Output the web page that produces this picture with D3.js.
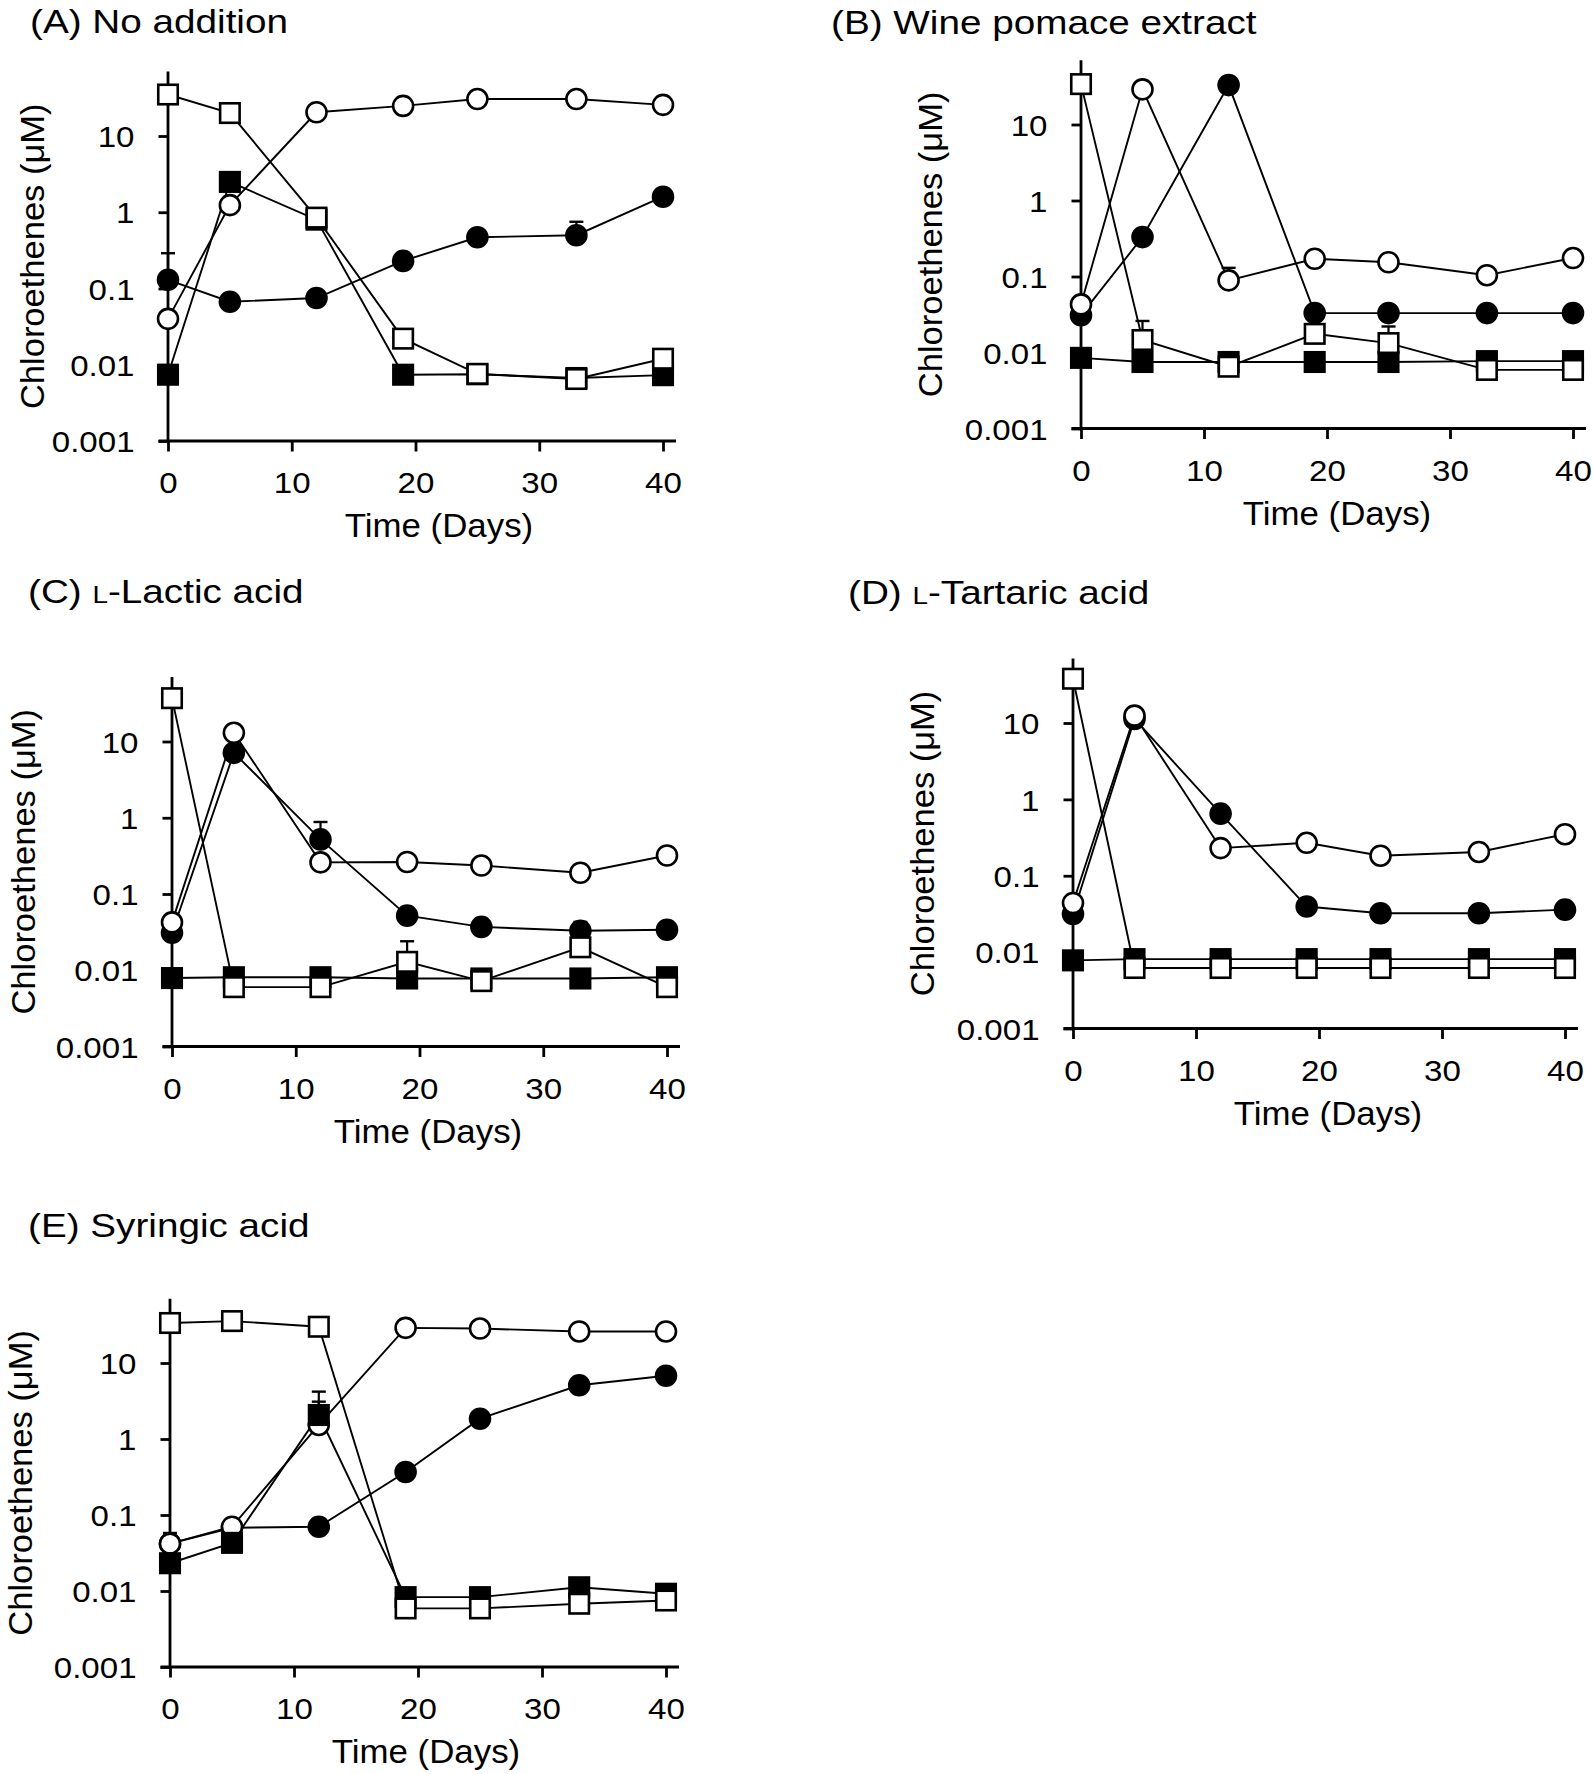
<!DOCTYPE html>
<html><head><meta charset="utf-8">
<script src="https://cdn.jsdelivr.net/npm/d3@7"></script>
<style>
body{margin:0;background:#fff}
text{font-family:"Liberation Sans",Arial,sans-serif;fill:#000}
</style>
</head><body>
<svg id="chart" width="1594" height="1774" xmlns="http://www.w3.org/2000/svg"></svg>
<script>
// ---------- data ----------
const days = [0, 5, 12, 19, 25, 33, 40];
const xTicks = [0, 10, 20, 30, 40];
const yTicks = [0.001, 0.01, 0.1, 1, 10];
const yTickLabels = ["0.001", "0.01", "0.1", "1", "10"];
const yLabel = "Chloroethenes (μM)";
const xLabel = "Time (Days)";
// titles: [prefix, small-capital part, rest]
const titleA = ["(A) No addition", "", ""];
const titleB = ["(B) Wine pomace extract", "", ""];
const titleC = ["(C) ", "L", "-Lactic acid"];
const titleD = ["(D) ", "L", "-Tartaric acid"];
const titleE = ["(E) Syringic acid", "", ""];

// open squares (PCE), filled squares (TCE), open circles (cis-DCE), filled circles (VC)
const pceA = [35, 20, 0.85, 0.022, 0.0076, 0.0065, 0.012];
const tceA = [0.0074, 2.5, 0.8, 0.0074, 0.0075, 0.0067, 0.0073];
const dceA = [0.040, 1.24, 20.5, 24.8, 30.5, 30.5, 25.6];
const vcA  = [0.13, 0.067, 0.075, 0.23, 0.47, 0.50, 1.6];
const errA = {vc: [[0, 0.29], [33, 0.75]]};

const pceB = [34, 0.0146, 0.0065, 0.0176, 0.0133, 0.0059, 0.0059];
const tceB = [0.0085, 0.0075, 0.0075, 0.0075, 0.0075, 0.0077, 0.0077];
const dceB = [0.043, 29, 0.089, 0.171, 0.154, 0.104, 0.175];
const vcB  = [0.031, 0.33, 33, 0.033, 0.033, 0.033, 0.033];
const errB = {pce: [[5, 0.026], [25, 0.022]], dce: [[12, 0.13]]};

const pceC = [37, 0.006, 0.006, 0.0129, 0.0072, 0.020, 0.006];
const tceC = [0.0079, 0.0081, 0.0081, 0.0078, 0.0078, 0.0078, 0.0081];
const dceC = [0.0425, 13, 0.26, 0.263, 0.236, 0.19, 0.32];
const vcC  = [0.031, 7.1, 0.52, 0.052, 0.037, 0.033, 0.034];
const errC = {pce: [[19, 0.024], [33, 0.032]], vc: [[12, 0.88], [33, 0.043]]};

const pceD = [38, 0.0062, 0.0062, 0.0062, 0.0062, 0.0062, 0.0062];
const tceD = [0.0078, 0.0081, 0.0081, 0.0081, 0.0081, 0.0081, 0.0081];
const dceD = [0.044, 12.5, 0.23, 0.27, 0.183, 0.205, 0.35];
const vcD  = [0.0316, 11.3, 0.65, 0.0395, 0.0323, 0.0323, 0.036];
const errD = {dce: [[25, 0.2]]};

const pceE = [33.6, 35.6, 30, 0.0059, 0.0059, 0.0068, 0.0075];
const tceE = [0.0232, 0.043, 2.07, 0.0083, 0.0083, 0.0112, 0.0092];
const dceE = [0.042, 0.070, 1.53, 29, 28.4, 26, 26];
const vcE  = [0.042, 0.068, 0.07, 0.368, 1.85, 5.1, 6.8];
const errE = {tce: [[12, 4.2]], dce: [[0, 0.058], [12, 3.1]]};

// ---------- layout ----------
const panels = [
  {title: titleA, pce: pceA, tce: tceA, dce: dceA, vc: vcA, err: errA,
   x0: 168, x1: 663, yTop: 136, yBot: 441, tx: 30, ty: 33, ylx: 32, xlx: 439},
  {title: titleB, pce: pceB, tce: tceB, dce: dceB, vc: vcB, err: errB,
   x0: 1081, x1: 1573, yTop: 124.5, yBot: 428.5, tx: 831, ty: 34, ylx: 930, xlx: 1337},
  {title: titleC, pce: pceC, tce: tceC, dce: dceC, vc: vcC, err: errC,
   x0: 172, x1: 667, yTop: 741.5, yBot: 1046.5, tx: 28, ty: 603, ylx: 23, xlx: 428},
  {title: titleD, pce: pceD, tce: tceD, dce: dceD, vc: vcD, err: errD,
   x0: 1073, x1: 1565, yTop: 723, yBot: 1028.5, tx: 848, ty: 604, ylx: 922, xlx: 1328},
  {title: titleE, pce: pceE, tce: tceE, dce: dceE, vc: vcE, err: errE,
   x0: 170, x1: 666, yTop: 1363, yBot: 1667, tx: 28, ty: 1237, ylx: 20, xlx: 426}
];

const TITLE_FS = 32.5, TICK_FS = 29.5, LABEL_FS = 33.5;
const AXIS_W = 2.8, LINE_W = 1.9, MARK_W = 2.6;
const SQ = 19.5, CR = 10, CAP = 14, TICK = 9.5;

function stretch(sel, f) {
  sel.each(function () {
    const w = this.getComputedTextLength();
    if (w > 0) {
      this.setAttribute("textLength", (w * f).toFixed(1));
      this.setAttribute("lengthAdjust", "spacingAndGlyphs");
    }
  });
}

const svg = d3.select("#chart");
svg.append("rect").attr("width", 1594).attr("height", 1774).attr("fill", "#fff");

panels.forEach(p => {
  const g = svg.append("g");
  const x = d3.scaleLinear().domain([0, 40]).range([p.x0, p.x1]);
  const y = d3.scaleLog().domain([0.001, 10]).range([p.yBot, p.yTop]);
  const yAxisTop = y(70);

  // title
  const t = g.append("text").attr("x", p.tx).attr("y", p.ty).attr("font-size", TITLE_FS);
  t.append("tspan").text(p.title[0]);
  if (p.title[1]) {
    t.append("tspan").attr("font-size", TITLE_FS * 0.72).text(p.title[1]);
    t.append("tspan").text(p.title[2]);
  }
  stretch(t, 1.19);

  // y axis
  const ya = g.append("g").attr("transform", `translate(${p.x0},0)`)
    .call(d3.axisLeft(y).tickValues(yTicks).tickFormat((d, i) => yTickLabels[i])
      .tickSize(TICK).tickPadding(24));
  ya.select(".domain").remove();
  ya.selectAll(".tick line").attr("stroke", "#000").attr("stroke-width", AXIS_W);
  ya.selectAll(".tick text").attr("font-size", TICK_FS).attr("font-family", null).attr("dy", "0.36em");
  stretch(ya.selectAll(".tick text"), 1.12);
  g.append("line").attr("x1", p.x0).attr("x2", p.x0).attr("y1", yAxisTop).attr("y2", p.yBot)
    .attr("stroke", "#000").attr("stroke-width", AXIS_W);

  // x axis
  const xa = g.append("g").attr("transform", `translate(0,${p.yBot})`)
    .call(d3.axisBottom(x).tickValues(xTicks).tickSize(TICK + 1).tickPadding(12));
  xa.select(".domain").remove();
  xa.selectAll(".tick line").attr("stroke", "#000").attr("stroke-width", AXIS_W);
  xa.selectAll(".tick text").attr("font-size", TICK_FS).attr("font-family", null)
    .attr("y", 52).attr("dy", null);
  stretch(xa.selectAll(".tick text"), 1.12);
  g.append("line").attr("x1", p.x0 - TICK).attr("x2", p.x1 + 13).attr("y1", p.yBot).attr("y2", p.yBot)
    .attr("stroke", "#000").attr("stroke-width", AXIS_W);

  // axis labels
  const xl = g.append("text").attr("x", p.xlx).attr("y", p.yBot + 96)
    .attr("text-anchor", "middle").attr("font-size", LABEL_FS).text(xLabel);
  stretch(xl, 1.04);
  const yc = (yAxisTop + p.yBot) / 2;
  const yl = g.append("text").attr("transform", `translate(${p.ylx},${yc}) rotate(-90)`)
    .attr("text-anchor", "middle").attr("dy", "0.36em").attr("font-size", LABEL_FS).text(yLabel);
  stretch(yl, 1.03);

  // series: draw order filled circles, open circles, filled squares, open squares
  const series = [
    {key: "vc", vals: p.vc, shape: "circle", fill: "#000"},
    {key: "dce", vals: p.dce, shape: "circle", fill: "#fff"},
    {key: "tce", vals: p.tce, shape: "square", fill: "#000"},
    {key: "pce", vals: p.pce, shape: "square", fill: "#fff"}
  ];
  const line = d3.line().x(d => x(d[0])).y(d => y(d[1]));
  series.forEach(s => {
    const pts = days.map((d, i) => [d, s.vals[i]]);
    g.append("path").attr("d", line(pts)).attr("fill", "none")
      .attr("stroke", "#000").attr("stroke-width", LINE_W);
  });
  series.forEach(s => {
    const pts = days.map((d, i) => [d, s.vals[i]]);
    (p.err[s.key] || []).forEach(([d, hi]) => {
      const v = s.vals[days.indexOf(d)];
      g.append("line").attr("x1", x(d)).attr("x2", x(d)).attr("y1", y(v)).attr("y2", y(hi))
        .attr("stroke", "#000").attr("stroke-width", 2.2);
      g.append("line").attr("x1", x(d) - CAP / 2).attr("x2", x(d) + CAP / 2).attr("y1", y(hi)).attr("y2", y(hi))
        .attr("stroke", "#000").attr("stroke-width", 2.4);
    });
    if (s.shape === "circle") {
      g.selectAll(null).data(pts).enter().append("circle")
        .attr("cx", d => x(d[0])).attr("cy", d => y(d[1])).attr("r", CR)
        .attr("fill", s.fill).attr("stroke", "#000").attr("stroke-width", MARK_W);
    } else {
      g.selectAll(null).data(pts).enter().append("rect")
        .attr("x", d => x(d[0]) - SQ / 2).attr("y", d => y(d[1]) - SQ / 2)
        .attr("width", SQ).attr("height", SQ)
        .attr("fill", s.fill).attr("stroke", "#000").attr("stroke-width", MARK_W);
    }
  });
});
</script>
</body></html>
